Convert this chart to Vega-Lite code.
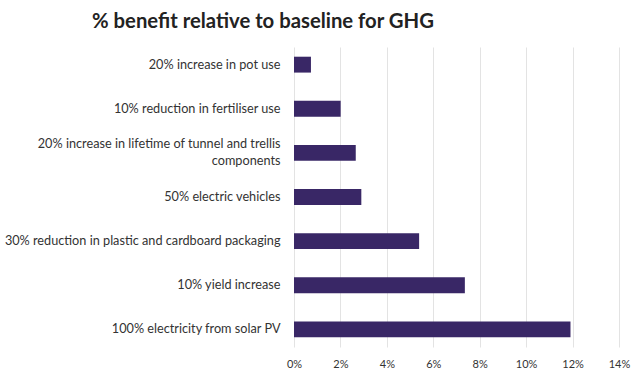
{
  "$schema": "https://vega.github.io/schema/vega-lite/v6.json",
  "autosize": {"type": "none"},
  "padding": {"left": 294, "right": 14, "top": 47, "bottom": 29},
  "width": 325,
  "height": 300,
  "background": "#ffffff",
  "title": {
    "text": "% benefit relative to baseline for GHG",
    "anchor": "start",
    "frame": "group",
    "dx": -202,
    "offset": 15,
    "font": "Lato",
    "fontSize": 20.3,
    "fontWeight": "bold",
    "color": "#222222"
  },
  "data": {
    "values": [
      {"measure": "20% increase in pot use", "benefit": 0.0073},
      {"measure": "10% reduction in fertiliser use", "benefit": 0.0201},
      {"measure": "20% increase in lifetime of tunnel and trellis components", "benefit": 0.0266},
      {"measure": "50% electric vehicles", "benefit": 0.029},
      {"measure": "30% reduction in plastic and cardboard packaging", "benefit": 0.0539},
      {"measure": "10% yield increase", "benefit": 0.0736},
      {"measure": "100% electricity from solar PV", "benefit": 0.1191}
    ]
  },
  "mark": {"type": "bar", "color": "#392766"},
  "encoding": {
    "y": {
      "field": "measure",
      "type": "nominal",
      "sort": null,
      "title": null,
      "scale": {"paddingInner": 0.64, "paddingOuter": 0.22},
      "axis": {
        "domain": false,
        "ticks": false,
        "labelLimit": 400,
        "labelFont": "Lato",
        "labelFontSize": 12.7,
        "labelColor": "#333333",
        "labelLineHeight": 17,
        "labelPadding": 14,
        "labelOffset": {"condition": {"test": "length(datum.value) > 50", "value": -8.5}, "value": 0},
        "labelExpr": "length(datum.value) > 50 ? ['20% increase in lifetime of tunnel and trellis', 'components'] : datum.value"
      }
    },
    "x": {
      "field": "benefit",
      "type": "quantitative",
      "title": null,
      "scale": {"domain": [0, 0.14], "nice": false},
      "axis": {
        "format": ".0%",
        "values": [0, 0.02, 0.04, 0.06, 0.08, 0.1, 0.12, 0.14],
        "domain": false,
        "ticks": false,
        "grid": true,
        "gridColor": "#e3e3e3",
        "labelFlush": false,
        "labelFont": "Lato",
        "labelFontSize": 11,
        "labelColor": "#333333",
        "labelPadding": 11
      }
    }
  },
  "config": {"view": {"stroke": null}}
}
